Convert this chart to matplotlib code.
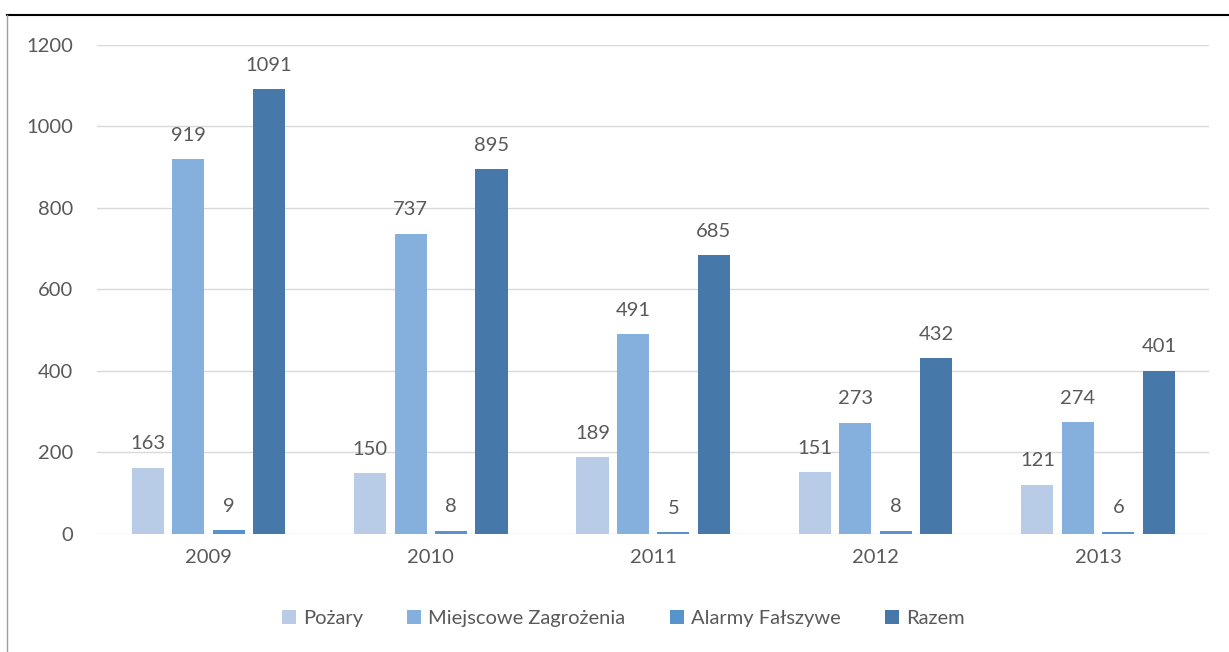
import numpy as np
import matplotlib.pyplot as plt
from matplotlib.lines import Line2D

plt.rcParams['font.family'] = ['Lato', 'DejaVu Sans']

# dane
lata = ["2009", "2010", "2011", "2012", "2013"]
serie = ["Pożary", "Miejscowe Zagrożenia", "Alarmy Fałszywe", "Razem"]
pozary = [163, 150, 189, 151, 121]
miejscowe = [919, 737, 491, 273, 274]
alarmy = [9, 8, 5, 8, 6]
razem = [1091, 895, 685, 432, 401]

kolory = ["#B8CCE8", "#85B0DE", "#5793CD", "#4678A9"]
tekst = "#595959"
fs = 14.5

fig = plt.figure(figsize=(12.29, 6.52), dpi=100)
ax = fig.add_axes([0.079, 0.181, 0.905, 0.750])

x = np.arange(len(lata))
szer = 0.144
krok = 0.182
wartosci = [pozary, miejscowe, alarmy, razem]

for i, (nazwa, vals) in enumerate(zip(serie, wartosci)):
    pos = x + (i - 1.5) * krok
    bars = ax.bar(pos, vals, width=szer, color=kolory[i], label=nazwa, zorder=3)
    for b, v in zip(bars, vals):
        ax.annotate(str(v), (b.get_x() + b.get_width() / 2, v),
                    xytext=(0, 11), textcoords="offset points",
                    ha="center", va="bottom", fontsize=fs, color=tekst)

ax.set_xlim(-0.5, len(lata) - 0.5)
ax.set_ylim(0, 1200)
ax.set_yticks(range(0, 1201, 200))
ax.set_xticks(x)
ax.set_xticklabels(lata)
ax.tick_params(length=0, labelsize=fs, colors=tekst)
ax.tick_params(axis="y", pad=17)
ax.tick_params(axis="x", pad=11)
ax.grid(axis="y", color="#D9D9D9", linewidth=1, zorder=0)
for s in ax.spines.values():
    s.set_visible(False)

leg = fig.legend(loc="center", bbox_to_anchor=(0.507, 0.052), ncol=4,
                 frameon=False, fontsize=fs, handlelength=0.7, handleheight=0.7,
                 columnspacing=2.2, handletextpad=0.35)
for t in leg.get_texts():
    t.set_color(tekst)

# ramka wykresu
fig.add_artist(Line2D([7 / 1229, 1], [1 - 15 / 652, 1 - 15 / 652],
                      transform=fig.transFigure, color="black", linewidth=1.5))
fig.add_artist(Line2D([7 / 1229, 7 / 1229], [0, 1 - 15 / 652],
                      transform=fig.transFigure, color="#A0A0A0", linewidth=1))

fig.savefig("out.png", dpi=100)
